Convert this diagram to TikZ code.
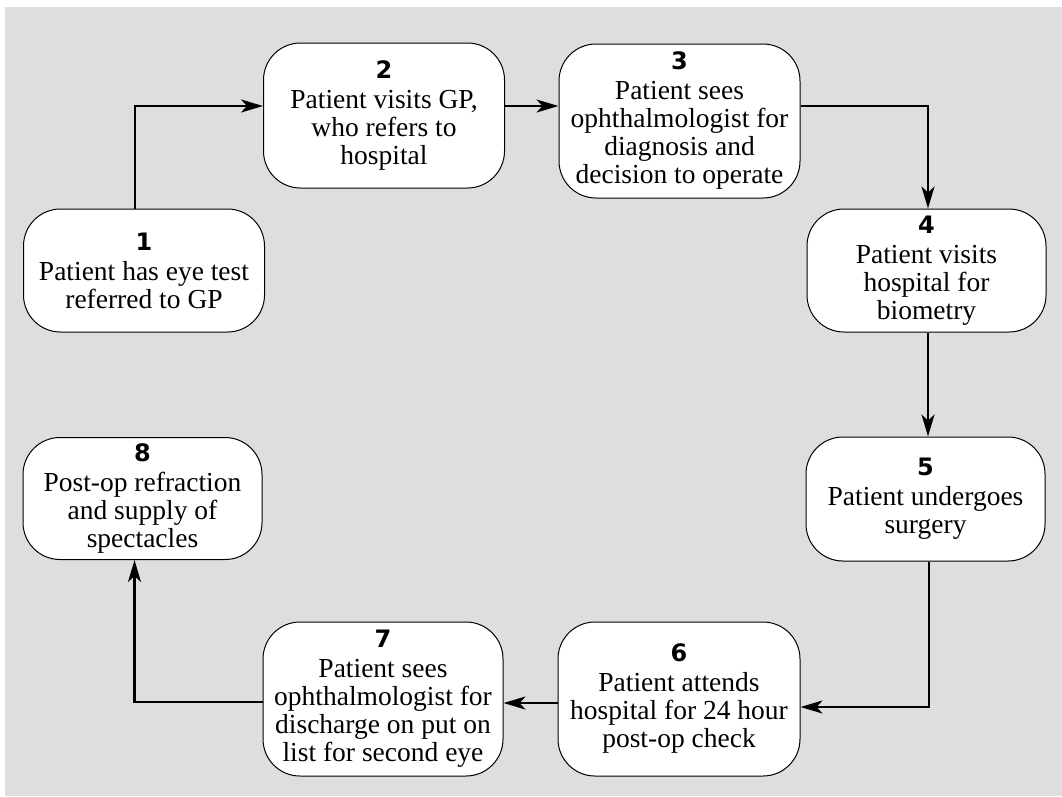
\documentclass[tikz,border=0pt]{standalone}
\usepackage{fontspec}
\setmainfont{Liberation Serif}
\newfontfamily\numfont{DejaVu Sans}
\usetikzlibrary{arrows.meta,calc}
\definecolor{bggray}{HTML}{DEDEDE}
\tikzset{
  box/.style={draw=black, line width=1pt, fill=white, rounded corners=37pt,
    minimum width=241pt, inner sep=0pt, align=center,
    font=\fontsize{27.5}{28}\selectfont},
  arr/.style={line width=2.5pt, -{Stealth[length=22pt,width=13pt,inset=6pt]}},
}
\newcommand{\stepnum}[1]{{\numfont\bfseries\fontsize{24}{28}\selectfont #1}\\[2pt]}
\begin{document}
\begin{tikzpicture}[x=1pt,y=-1pt]
\useasboundingbox (0,0) rectangle (1062,796);
\fill[bggray] (5,7) rectangle (1062,796);

\node[box, minimum height=123pt] (n1) at (144,270.5) {\stepnum{1}Patient has eye test\\referred to GP};
\node[box, minimum height=145pt] (n2) at (384,115.5) {\stepnum{2}Patient visits GP,\\who refers to\\hospital};
\node[box, minimum height=154pt] (n3) at (679.5,121) {\stepnum{3}Patient sees\\ophthalmologist for\\diagnosis and\\decision to operate};
\node[box, minimum height=123pt, minimum width=239pt] (n4) at (926.5,270.5) {\stepnum{4}Patient visits\\hospital for\\biometry};
\node[box, minimum height=124pt, minimum width=239pt] (n5) at (925.5,499) {\stepnum{5}Patient undergoes\\surgery};
\node[box, minimum height=154pt, minimum width=242pt] (n6) at (679,699) {\stepnum{6}Patient attends\\hospital for 24 hour\\post-op check};
\node[box, minimum height=154pt, minimum width=240pt] (n7) at (383,699) {\stepnum{7}Patient sees\\ophthalmologist for\\discharge on put on\\list for second eye};
\node[box, minimum height=122pt, minimum width=239pt] (n8) at (142.5,498.5) {\stepnum{8}Post-op refraction\\and supply of\\spectacles};

\draw[arr] ([xshift=-9pt]n1.north) |- ([yshift=9.5pt]n2.west);
\draw[arr] ([yshift=9.5pt]n2.east) -- ([yshift=9.5pt]n2.east -| n3.west);
\draw[arr] ([yshift=15pt]n3.east) -| ([xshift=1.5pt]n4.north);
\draw[arr] ([xshift=1.5pt]n4.south) -- ([xshift=1.5pt]n4.south |- n5.north);
\draw[arr] ([xshift=3.5pt]n5.south) |- ([yshift=-8pt]n6.east);
\draw[arr] ([yshift=-4pt]n6.west) -- ([yshift=-4pt]n6.west -| n7.east);
\draw[arr] ([yshift=-3pt]n7.west) -| ([xshift=-8pt]n8.south);
\end{tikzpicture}
\end{document}
